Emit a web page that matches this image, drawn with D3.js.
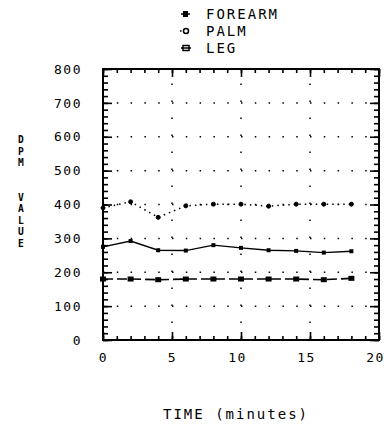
<!DOCTYPE html>
<html lang="en">
<head>
<meta charset="utf-8"/>
<script src="https://d3js.org/d3.v7.min.js"></script>
<style>
  body { margin: 0; background: #fff; }
  text { font-family: "DejaVu Sans Mono", monospace; fill: #000; }
</style>
</head>
<body>
<svg id="chart" width="386" height="427"></svg>
<script>
  // data
  const times = [0, 2, 4, 6, 8, 10, 12, 14, 16, 18];
  const forearm = [275, 292, 265, 264, 280, 272, 265, 263, 258, 262];
  const palm = [390, 408, 362, 396, 401, 401, 395, 401, 401, 401];
  const leg = [180, 180, 178, 180, 180, 180, 180, 180, 178, 182];
  const xTicks = [0, 5, 10, 15, 20];
  const yTicks = [0, 100, 200, 300, 400, 500, 600, 700, 800];
  const seriesNames = ["FOREARM", "PALM", "LEG"];

  const svg = d3.select("#chart");
  const x = d3.scaleLinear().domain([0, 20]).range([103, 379]);
  const y = d3.scaleLinear().domain([0, 800]).range([340, 69]);

  // dotted grid
  svg.selectAll(".hgrid")
    .data(yTicks.slice(1, -1))
    .enter().append("line")
      .attr("x1", x(0)).attr("x2", x(20))
      .attr("y1", d => y(d)).attr("y2", d => y(d))
      .attr("stroke", "#000").attr("stroke-width", 1.5)
      .attr("stroke-dasharray", "1.5,12.3");
  svg.selectAll(".vgrid")
    .data(xTicks.slice(1, -1))
    .enter().append("line")
      .attr("x1", d => x(d)).attr("x2", d => x(d))
      .attr("y1", y(0)).attr("y2", y(800))
      .attr("stroke", "#000").attr("stroke-width", 1.5)
      .attr("stroke-dasharray", "1.5,15.5");

  // minor ticks (inward) on all four sides
  const minorY = d3.range(0, 801, 20), minorX = d3.range(0, 21, 1);
  function addAxis(axis, tr) {
    const g = svg.append("g").attr("transform", tr).call(axis);
    g.select(".domain").remove();
    g.selectAll("line").attr("stroke", "#000").attr("stroke-width", 1.6);
    g.selectAll("text").attr("font-size", 13).attr("font-family", "DejaVu Sans Mono")
      .attr("letter-spacing", 1.5);
    return g;
  }
  addAxis(d3.axisLeft(y).tickValues(minorY).tickSize(-5).tickFormat(""), `translate(${x(0)},0)`);
  addAxis(d3.axisRight(y).tickValues(minorY).tickSize(-5).tickFormat(""), `translate(${x(20)},0)`);
  addAxis(d3.axisBottom(x).tickValues(minorX).tickSize(-4).tickFormat(""), `translate(0,${y(0)})`);
  addAxis(d3.axisTop(x).tickValues(minorX).tickSize(-4).tickFormat(""), `translate(0,${y(800)})`);

  // major ticks with labels
  addAxis(d3.axisLeft(y).tickValues(yTicks).tickSize(-9).tickPadding(21).tickFormat(d3.format("d")), `translate(${x(0)},0)`);
  addAxis(d3.axisRight(y).tickValues(yTicks).tickSize(-9).tickFormat(""), `translate(${x(20)},0)`);
  const xb = addAxis(d3.axisBottom(x).tickValues(xTicks).tickSize(-8).tickPadding(13).tickFormat(d3.format("d")), `translate(0,${y(0)})`);
  xb.selectAll("text").attr("dx", d => d >= 10 ? -4 : 0);
  addAxis(d3.axisTop(x).tickValues(xTicks).tickSize(-8).tickFormat(""), `translate(0,${y(800)})`);

  // frame
  svg.append("rect")
    .attr("x", x(0)).attr("y", y(800))
    .attr("width", x(20) - x(0)).attr("height", y(0) - y(800))
    .attr("fill", "none").attr("stroke", "#000").attr("stroke-width", 2);

  const line = d3.line().x(d => x(d[0])).y(d => y(d[1]));
  const zip = vals => times.map((t, i) => [t, vals[i]]);

  // forearm: solid line, filled square markers
  svg.append("path").datum(zip(forearm)).attr("d", line)
    .attr("fill", "none").attr("stroke", "#000").attr("stroke-width", 1.4);
  svg.selectAll(".fm").data(zip(forearm)).enter().append("rect")
    .attr("x", d => x(d[0]) - 2).attr("y", d => y(d[1]) - 2)
    .attr("width", 4).attr("height", 4).attr("fill", "#000");

  // palm: dotted line, small markers
  svg.append("path").datum(zip(palm)).attr("d", line)
    .attr("fill", "none").attr("stroke", "#000").attr("stroke-width", 1.5)
    .attr("stroke-dasharray", "1.5,4");
  svg.selectAll(".pm").data(zip(palm)).enter().append("circle")
    .attr("cx", d => x(d[0])).attr("cy", d => y(d[1])).attr("r", 2)
    .attr("fill", "#000").attr("stroke", "#000").attr("stroke-width", 1);

  // leg: dashed line, square markers
  svg.append("path").datum(zip(leg)).attr("d", line)
    .attr("fill", "none").attr("stroke", "#000").attr("stroke-width", 1.6)
    .attr("stroke-dasharray", "10,4");
  svg.selectAll(".lm").data(zip(leg)).enter().append("rect")
    .attr("x", d => x(d[0]) - 3).attr("y", d => y(d[1]) - 2.5)
    .attr("width", 6).attr("height", 5).attr("fill", "#000");

  // legend
  const legY = [14, 31, 48];
  const leg_g = svg.append("g");
  seriesNames.forEach((name, i) => {
    const cy = legY[i];
    if (i === 0) {
      leg_g.append("line").attr("x1", 181).attr("x2", 190).attr("y1", cy).attr("y2", cy)
        .attr("stroke", "#000").attr("stroke-width", 1.5);
      leg_g.append("rect").attr("x", 183).attr("y", cy - 3).attr("width", 5).attr("height", 6).attr("fill", "#000");
    } else if (i === 1) {
      leg_g.append("circle").attr("cx", 186).attr("cy", cy).attr("r", 2.5)
        .attr("fill", "none").attr("stroke", "#000").attr("stroke-width", 1.5);
      leg_g.append("line").attr("x1", 180).attr("x2", 181.5).attr("y1", cy).attr("y2", cy)
        .attr("stroke", "#000").attr("stroke-width", 1.5);
    } else {
      leg_g.append("line").attr("x1", 181).attr("x2", 191).attr("y1", cy).attr("y2", cy)
        .attr("stroke", "#000").attr("stroke-width", 1.5);
      leg_g.append("rect").attr("x", 183).attr("y", cy - 2.5).attr("width", 6).attr("height", 5)
        .attr("fill", "none").attr("stroke", "#000").attr("stroke-width", 1.5);
    }
    leg_g.append("text").attr("x", 206).attr("y", cy + 5)
      .attr("font-size", 14).attr("letter-spacing", 2).text(name);
  });

  // axis titles
  svg.append("text").attr("x", 236).attr("y", 419).attr("text-anchor", "middle")
    .attr("font-size", 14).attr("letter-spacing", 2).text("TIME (minutes)");
  const yTitle = ["D", "P", "M", "", "", "V", "A", "L", "U", "E"];
  svg.append("g").selectAll("text").data(yTitle.map((c, i) => [c, i]).filter(d => d[0]))
    .enter().append("text")
    .attr("x", 21).attr("y", d => 143 + d[1] * 11.5)
    .attr("text-anchor", "middle").attr("font-size", 9.6).attr("font-weight", "bold")
    .text(d => d[0]);
</script>
</body>
</html>
